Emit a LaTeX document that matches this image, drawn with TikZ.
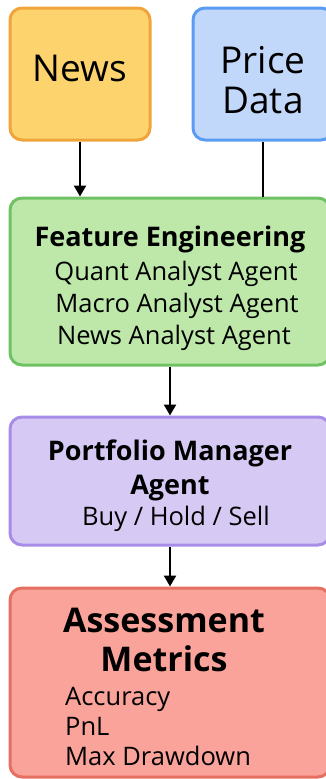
\documentclass[tikz,border=0pt]{standalone}
\usepackage{fontspec}
\setmainfont{Open Sans}
\usetikzlibrary{positioning, arrows.meta}

\definecolor{newsfill}{HTML}{FCD36D}
\definecolor{newsline}{HTML}{F0A43C}
\definecolor{pricefill}{HTML}{C2D8FA}
\definecolor{priceline}{HTML}{5B9CF3}
\definecolor{featfill}{HTML}{BEE8AA}
\definecolor{featline}{HTML}{6FC263}
\definecolor{pmfill}{HTML}{D6CAF4}
\definecolor{pmline}{HTML}{A78CE8}
\definecolor{evalfill}{HTML}{F9A39A}
\definecolor{evalline}{HTML}{E56F61}

\newcommand{\fsz}[1]{\fontsize{#1}{#1}\selectfont}

\tikzset{
  block/.style={draw, line width=3pt, rounded corners=12pt},
  flow/.style={line width=2.4pt, -{Triangle[width=12pt,length=11pt]}},
  title/.style={anchor=base, inner sep=0pt, font=\fsz{27}\bfseries},
  item/.style={anchor=base, inner sep=0pt, font=\fsz{25.5}}
}

\begin{document}
\begin{tikzpicture}[x=1pt, y=-1pt]
\useasboundingbox (0,0) rectangle (325,779);

% inputs
\node [block, fill=newsfill, draw=newsline, minimum width=140pt, minimum height=132pt] (news) at (80,74) {};
\node [anchor=base, inner sep=0pt, font=\fsz{37}] (newstxt) at (80,81) {News};

\node [block, fill=pricefill, draw=priceline, minimum width=140pt, minimum height=132pt] (price) at (263,74) {};
\node [anchor=base, inner sep=0pt, font=\fsz{37}] (pricetxt) at (263,73) {Price};
\node [anchor=base, inner sep=0pt, font=\fsz{37}] (datatxt) at (263,113) {Data};

% feature engineering
\node [block, fill=featfill, draw=featline, minimum width=320pt, minimum height=167pt] (feat) at (170,281.5) {};
\node [title] (feattitle) at (170,246) {Feature Engineering};
\node [item] (quant) at (176,280) {Quant Analyst Agent};
\node [item] (macro) at (177,312) {Macro Analyst Agent};
\node [item] (newsagent) at (174,344) {News Analyst Agent};

% portfolio manager
\node [block, fill=pmfill, draw=pmline, minimum width=320pt, minimum height=128pt] (pm) at (170,481) {};
\node [title] (pmtitle) at (170,460) {Portfolio Manager};
\node [title] (pmagent) at (170,494) {Agent};
\node [item] (orders) at (176,525) {Buy / Hold / Sell};

% assessment
\node [block, fill=evalfill, draw=evalline, minimum width=320pt, minimum height=189pt] (eval) at (170,682.5) {};
\node [title, font=\fsz{34}\bfseries] (evaltitle) at (164,632) {Assessment};
\node [title, font=\fsz{34}\bfseries] (evalmetrics) at (164,671) {Metrics};
\node [item, anchor=base west] (acc) at (65,705) {Accuracy};
\node [item, anchor=base west] (pnl) at (65,735) {PnL};
\node [item, anchor=base west] (mdd) at (65,765) {Max Drawdown};

% connectors
\draw [flow] (news.south) -- (news.south |- feat.north);
\draw [line width=2.4pt] (price.south) -- (price.south |- feat.north);
\draw [flow] (feat.south) -- (pm.north);
\draw [flow] (pm.south) -- (eval.north);
\end{tikzpicture}
\end{document}
